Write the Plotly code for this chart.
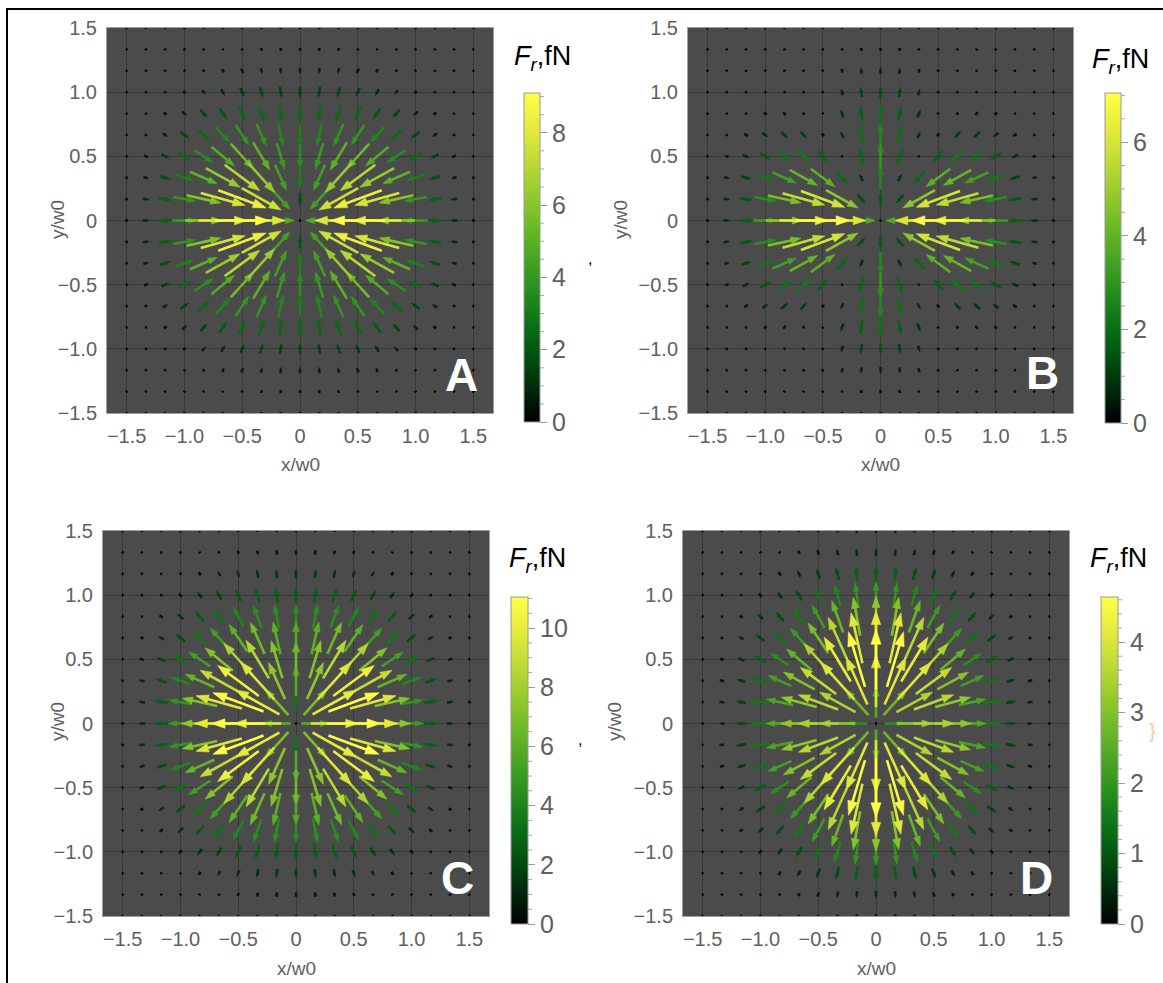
import math
import plotly.graph_objects as go

W, H = 1163, 983

# ---------------- data ----------------
# Grid of sample points: multiples of 1/6 w0, index 0..9 (quadrant x>=0, y>=0, mirrored)
GRID_STEP = 1.0 / 6.0
GRID_IDX = [0, 1, 2, 3, 4, 5, 6, 7, 8, 9]

# Signed radial force F_r (fN), positive = outward; rows: y index j, columns: x index i
FR_A = [
    [0.00, -4.73, -8.01, -9.10, -8.23, -6.23, -4.06, -2.30, -1.15, -0.50],
    [-1.87, -4.41, -7.45, -8.52, -7.73, -5.88, -3.83, -2.18, -1.08, -0.47],
    [-3.17, -4.38, -6.33, -7.13, -6.47, -4.93, -3.22, -1.82, -0.91, -0.40],
    [-3.60, -4.14, -5.10, -5.45, -4.88, -3.71, -2.42, -1.38, -0.68, -0.30],
    [-3.25, -3.46, -3.80, -3.82, -3.33, -2.51, -1.63, -0.93, -0.46, -0.20],
    [-2.47, -2.52, -2.58, -2.45, -2.08, -1.54, -0.99, -0.56, -0.28, -0.12],
    [-1.61, -1.61, -1.56, -1.42, -1.16, -0.85, -0.54, -0.30, -0.15, -0.07],
    [-0.91, -0.90, -0.84, -0.74, -0.59, -0.42, -0.27, -0.15, -0.07, -0.04],
    [-0.45, -0.44, -0.41, -0.35, -0.27, -0.19, -0.12, -0.07, -0.03, -0.01],
    [-0.20, -0.19, -0.17, -0.15, -0.11, -0.08, -0.05, -0.03, -0.01, -0.01],
]
FR_B = [
    [0.00, -3.67, -6.20, -7.05, -6.37, -4.83, -3.14, -1.78, -0.89, -0.39],
    [1.56, -1.41, -4.69, -6.03, -5.69, -4.41, -2.90, -1.66, -0.83, -0.36],
    [2.64, 0.92, -2.02, -3.81, -4.08, -3.35, -2.28, -1.32, -0.67, -0.30],
    [3.00, 1.99, -0.09, -1.74, -2.35, -2.13, -1.53, -0.92, -0.47, -0.21],
    [2.71, 2.12, 0.80, -0.42, -1.06, -1.13, -0.87, -0.55, -0.29, -0.13],
    [2.06, 1.73, 0.95, 0.16, -0.33, -0.49, -0.42, -0.28, -0.16, -0.07],
    [1.34, 1.17, 0.75, 0.30, -0.02, -0.16, -0.17, -0.13, -0.07, -0.04],
    [0.76, 0.68, 0.47, 0.24, 0.06, -0.03, -0.06, -0.05, -0.03, -0.02],
    [0.38, 0.34, 0.25, 0.14, 0.06, 0.01, -0.01, -0.02, -0.01, -0.01],
    [0.17, 0.15, 0.11, 0.07, 0.03, 0.01, 0.00, 0.00, 0.00, 0.00],
]
FR_C = [
    [0.00, 5.75, 9.72, 11.05, 9.99, 7.57, 4.93, 2.80, 1.39, 0.61],
    [3.38, 6.79, 10.04, 10.92, 9.69, 7.29, 4.72, 2.67, 1.32, 0.57],
    [5.72, 7.49, 9.75, 10.11, 8.72, 6.44, 4.13, 2.31, 1.14, 0.50],
    [6.50, 7.29, 8.43, 8.39, 7.08, 5.15, 3.27, 1.82, 0.88, 0.38],
    [5.88, 6.16, 6.51, 6.21, 5.13, 3.69, 2.31, 1.28, 0.63, 0.27],
    [4.45, 4.51, 4.49, 4.12, 3.33, 2.37, 1.47, 0.80, 0.39, 0.17],
    [2.90, 2.88, 2.76, 2.44, 1.93, 1.35, 0.83, 0.45, 0.22, 0.09],
    [1.64, 1.61, 1.49, 1.29, 1.00, 0.69, 0.42, 0.23, 0.11, 0.05],
    [0.82, 0.80, 0.73, 0.61, 0.47, 0.32, 0.19, 0.10, 0.05, 0.02],
    [0.36, 0.34, 0.31, 0.26, 0.20, 0.13, 0.08, 0.05, 0.02, 0.01],
]
FR_D = [
    [0.00, 1.82, 3.08, 3.50, 3.16, 2.40, 1.56, 0.89, 0.44, 0.19],
    [2.41, 2.83, 3.47, 3.60, 3.14, 2.34, 1.51, 0.85, 0.42, 0.18],
    [4.08, 4.11, 4.06, 3.71, 3.02, 2.16, 1.36, 0.75, 0.37, 0.16],
    [4.64, 4.51, 4.13, 3.49, 2.68, 1.84, 1.13, 0.61, 0.29, 0.13],
    [4.19, 4.03, 3.57, 2.90, 2.14, 1.42, 0.85, 0.45, 0.22, 0.09],
    [3.18, 3.04, 2.65, 2.10, 1.51, 0.98, 0.58, 0.30, 0.14, 0.06],
    [2.07, 1.97, 1.71, 1.34, 0.94, 0.61, 0.35, 0.18, 0.08, 0.03],
    [1.17, 1.12, 0.96, 0.75, 0.52, 0.33, 0.19, 0.10, 0.04, 0.02],
    [0.58, 0.55, 0.48, 0.36, 0.26, 0.16, 0.09, 0.05, 0.02, 0.01],
    [0.26, 0.24, 0.21, 0.16, 0.11, 0.07, 0.04, 0.02, 0.01, 0.00],
]

PANELS = ["A", "B", "C", "D"]
FR = {"A": FR_A, "B": FR_B, "C": FR_C, "D": FR_D}
CMAX = {"A": 9.1, "B": 7.05, "C": 11.05, "D": 4.64}
CB_TICKS = {"A": [0, 2, 4, 6, 8], "B": [0, 2, 4, 6], "C": [0, 2, 4, 6, 8, 10], "D": [0, 1, 2, 3, 4]}
CB_MINOR = {"A": 0.5, "B": 0.5, "C": 0.5, "D": 0.2}

AX_TICKS = [-1.5, -1.0, -0.5, 0, 0.5, 1.0, 1.5]
AX_TICKTEXT = ["\u22121.5", "\u22121.0", "\u22120.5", "0", "0.5", "1.0", "1.5"]
X_RANGE = [-1.67, 1.67]
Y_RANGE = [-1.5, 1.5]

# ---------------- layout geometry (pixels) ----------------
BOX = {"A": (107, 28, 493, 413), "B": (688, 28, 1073, 413),
       "C": (103, 531, 489, 916), "D": (683, 531, 1069, 916)}
CBOX = {"A": (524, 93, 540, 422), "B": (1105, 93, 1121, 423),
        "C": (511, 597, 528, 924), "D": (1101, 597, 1118, 924)}
CB_TITLE = {"A": (542, 58), "B": (1120, 61), "C": (537, 560), "D": (1118, 560)}
LETTER = {"A": (461, 375), "B": (1042, 373), "C": (457, 878), "D": (1036, 878)}
XTITLE = {"A": (300, 465), "B": (880, 465), "C": (296, 968), "D": (876, 968)}
YTITLE = {"A": (57, 220), "B": (620, 220), "C": (57, 722), "D": (614, 722)}

FONT = "Liberation Sans, Arial, sans-serif"
GRAY = "#606060"

COLORSCALE = [
    [0.0, "#000000"], [0.1, "#00280a"], [0.2, "#005210"], [0.3, "#0c7216"],
    [0.4, "#288e1e"], [0.5, "#49a523"], [0.6, "#6fba27"], [0.7, "#98cb2e"],
    [0.8, "#c2dc36"], [0.9, "#e6ec3d"], [1.0, "#ffff46"],
]


def hex2rgb(h):
    h = h.lstrip("#")
    return [int(h[k:k + 2], 16) for k in (0, 2, 4)]


def cmap(t):
    t = max(0.0, min(1.0, t))
    for (t0, c0), (t1, c1) in zip(COLORSCALE[:-1], COLORSCALE[1:]):
        if t <= t1:
            f = 0 if t1 == t0 else (t - t0) / (t1 - t0)
            a, b = hex2rgb(c0), hex2rgb(c1)
            return "rgb(%d,%d,%d)" % tuple(round(a[k] + f * (b[k] - a[k])) for k in range(3))
    return COLORSCALE[-1][1]


LMAX_PX = 54.0
NBINS = 40

fig = go.Figure()
shapes = []
annotations = []

for n, p in enumerate(PANELS, 1):
    xname = "x" if n == 1 else "x%d" % n
    yname = "y" if n == 1 else "y%d" % n
    x0, y0, x1, y1 = BOX[p]
    sx = (x1 - x0) / (X_RANGE[1] - X_RANGE[0])
    sy = (y1 - y0) / (Y_RANGE[1] - Y_RANGE[0])
    cmax = CMAX[p]
    grid = FR[p]

    lines = {}
    heads = {}
    ks = [-k for k in GRID_IDX[:0:-1]] + GRID_IDX
    for ky in ks:
        for kx in ks:
            F = grid[abs(ky)][abs(kx)]
            X, Y = kx * GRID_STEP, ky * GRID_STEP
            t = abs(F) / cmax
            b = int(round(t * NBINS))
            if kx == 0 and ky == 0:
                ex, ey = 1.0, 0.0
                L = 0.0
            else:
                r = math.hypot(kx, ky)
                sgn = 1.0 if F >= 0 else -1.0
                vx = sgn * (kx / r) * abs(F) / cmax * LMAX_PX
                vy = sgn * (ky / r) * abs(F) / cmax * LMAX_PX * sy / sx
                L = math.hypot(vx, vy)
                if L > 0:
                    ex, ey = vx / L, vy / L
                else:
                    ex, ey = kx / r, ky / r

            def to_data(dx, dy):
                return X + dx / sx, Y + dy / sy

            if L < 5.0:
                Ld = max(L, 2.0)
                a = to_data(-ex * Ld / 2, -ey * Ld / 2)
                c = to_data(ex * Ld / 2, ey * Ld / 2)
                lines.setdefault(b, ([], []))
                lines[b][0].extend([a[0], c[0], None])
                lines[b][1].extend([a[1], c[1], None])
            else:
                h = min(0.45 * L, 4.0 + 0.18 * L)
                hw = 0.34 * h
                tipx, tipy = ex * L / 2, ey * L / 2
                basex, basey = tipx - h * ex, tipy - h * ey
                nx, ny = -ey, ex
                tail = to_data(-ex * L / 2, -ey * L / 2)
                send = to_data(basex + 0.2 * h * ex, basey + 0.2 * h * ey)
                lines.setdefault(b, ([], []))
                lines[b][0].extend([tail[0], send[0], None])
                lines[b][1].extend([tail[1], send[1], None])
                p1 = to_data(tipx, tipy)
                p2 = to_data(basex + hw * nx, basey + hw * ny)
                p3 = to_data(basex - hw * nx, basey - hw * ny)
                heads.setdefault(b, ([], []))
                heads[b][0].extend([p1[0], p2[0], p3[0], p1[0], None])
                heads[b][1].extend([p1[1], p2[1], p3[1], p1[1], None])

    for b in sorted(set(lines) | set(heads)):
        col = cmap(b / NBINS)
        if b in lines:
            fig.add_trace(go.Scatter(x=lines[b][0], y=lines[b][1], mode="lines",
                                     line=dict(color=col, width=2.6),
                                     hoverinfo="skip", showlegend=False,
                                     xaxis=xname, yaxis=yname))
        if b in heads:
            fig.add_trace(go.Scatter(x=heads[b][0], y=heads[b][1], mode="lines",
                                     fill="toself", fillcolor=col,
                                     line=dict(color=col, width=0.6),
                                     hoverinfo="skip", showlegend=False,
                                     xaxis=xname, yaxis=yname))

    # colorbar carrier
    cx0, cy0, cx1, cy1 = CBOX[p]
    fig.add_trace(go.Scatter(
        x=[0], y=[0], mode="markers", hoverinfo="skip", showlegend=False,
        xaxis=xname, yaxis=yname,
        marker=dict(size=0.1, opacity=0, color=[0], cmin=0, cmax=cmax,
                    colorscale=COLORSCALE, showscale=True,
                    colorbar=dict(
                        thickness=cx1 - cx0, thicknessmode="pixels",
                        len=cy1 - cy0, lenmode="pixels",
                        x=cx0 / W, xanchor="left", y=1 - (cy0 + cy1) / 2 / H, yanchor="middle",
                        xpad=0, ypad=0, outlinecolor="#9a9a9a", outlinewidth=1,
                        tickmode="array", tickvals=CB_TICKS[p],
                        ticktext=[str(v) for v in CB_TICKS[p]],
                        ticks="outside", ticklen=7, tickcolor="#9a9a9a", tickwidth=1,
                        tickfont=dict(family=FONT, size=25, color=GRAY)))))

    # minor colorbar ticks
    step = CB_MINOR[p]
    k = 1
    while k * step < cmax - 1e-9:
        v = k * step
        if all(abs(v - m) > 1e-6 for m in CB_TICKS[p]):
            ypx = cy1 - v / cmax * (cy1 - cy0)
            shapes.append(dict(type="line", xref="paper", yref="paper",
                               x0=cx1 / W, x1=(cx1 + 4) / W, y0=1 - ypx / H, y1=1 - ypx / H,
                               line=dict(color="#a8a8a8", width=1)))
        k += 1

    axis_common = dict(showgrid=True, gridcolor="#383838", gridwidth=1, zeroline=False,
                       showline=True, linecolor="#a0a0a0", linewidth=1, mirror=True,
                       ticks="", tickmode="array", tickvals=AX_TICKS, ticktext=AX_TICKTEXT,
                       tickfont=dict(family=FONT, size=20, color=GRAY), fixedrange=True,
                       automargin=False)
    fig.layout["xaxis" if n == 1 else "xaxis%d" % n] = dict(
        domain=[x0 / W, x1 / W], range=X_RANGE, anchor=yname, ticklabelstandoff=5, **axis_common)
    fig.layout["yaxis" if n == 1 else "yaxis%d" % n] = dict(
        domain=[1 - y1 / H, 1 - y0 / H], range=Y_RANGE, anchor=xname, ticklabelstandoff=5, **axis_common)

    tx, ty = CB_TITLE[p]
    annotations.append(dict(text="<i>F</i><sub><i>r</i></sub>,fN", x=tx / W, y=1 - ty / H,
                            xref="paper", yref="paper", showarrow=False,
                            xanchor="center", yanchor="middle",
                            font=dict(family=FONT, size=27, color="black")))
    lx, ly = LETTER[p]
    annotations.append(dict(text="<b>%s</b>" % p, x=lx / W, y=1 - ly / H,
                            xref="paper", yref="paper", showarrow=False,
                            xanchor="center", yanchor="middle",
                            font=dict(family=FONT, size=46, color="white")))
    ax_, ay_ = XTITLE[p]
    annotations.append(dict(text="x/w0", x=ax_ / W, y=1 - ay_ / H, xref="paper", yref="paper",
                            showarrow=False, xanchor="center", yanchor="middle",
                            font=dict(family=FONT, size=19, color=GRAY)))
    bx_, by_ = YTITLE[p]
    annotations.append(dict(text="y/w0", x=bx_ / W, y=1 - by_ / H, xref="paper", yref="paper",
                            showarrow=False, xanchor="center", yanchor="middle", textangle=-90,
                            font=dict(family=FONT, size=19, color=GRAY)))

# stray separators from the original notebook output
annotations.append(dict(text=",", x=590 / W, y=1 - 248 / H, xref="paper", yref="paper",
                        showarrow=False, font=dict(family=FONT, size=16, color="black")))
annotations.append(dict(text=",", x=580 / W, y=1 - 750 / H, xref="paper", yref="paper",
                        showarrow=False, font=dict(family=FONT, size=16, color="black")))
annotations.append(dict(text="}", x=1158 / W, y=1 - 744 / H, xref="paper", yref="paper",
                        showarrow=False, font=dict(family=FONT, size=20, color="#f2c9a0")))

# frame lines (top and left)
shapes.append(dict(type="line", xref="paper", yref="paper", x0=6 / W, x1=1.0,
                   y0=1 - 9 / H, y1=1 - 9 / H, line=dict(color="black", width=2)))
shapes.append(dict(type="line", xref="paper", yref="paper", x0=7 / W, x1=7 / W,
                   y0=1 - 9 / H, y1=0, line=dict(color="black", width=2)))

fig.update_layout(width=W, height=H, autosize=False,
                  margin=dict(l=0, r=0, t=0, b=0, pad=0, autoexpand=False),
                  paper_bgcolor="white", plot_bgcolor="#4b4b4b",
                  showlegend=False, shapes=shapes, annotations=annotations)

fig.write_html("out.html", config={"displayModeBar": False},
               post_script="document.body.style.margin='0';document.body.style.overflow='hidden';")
